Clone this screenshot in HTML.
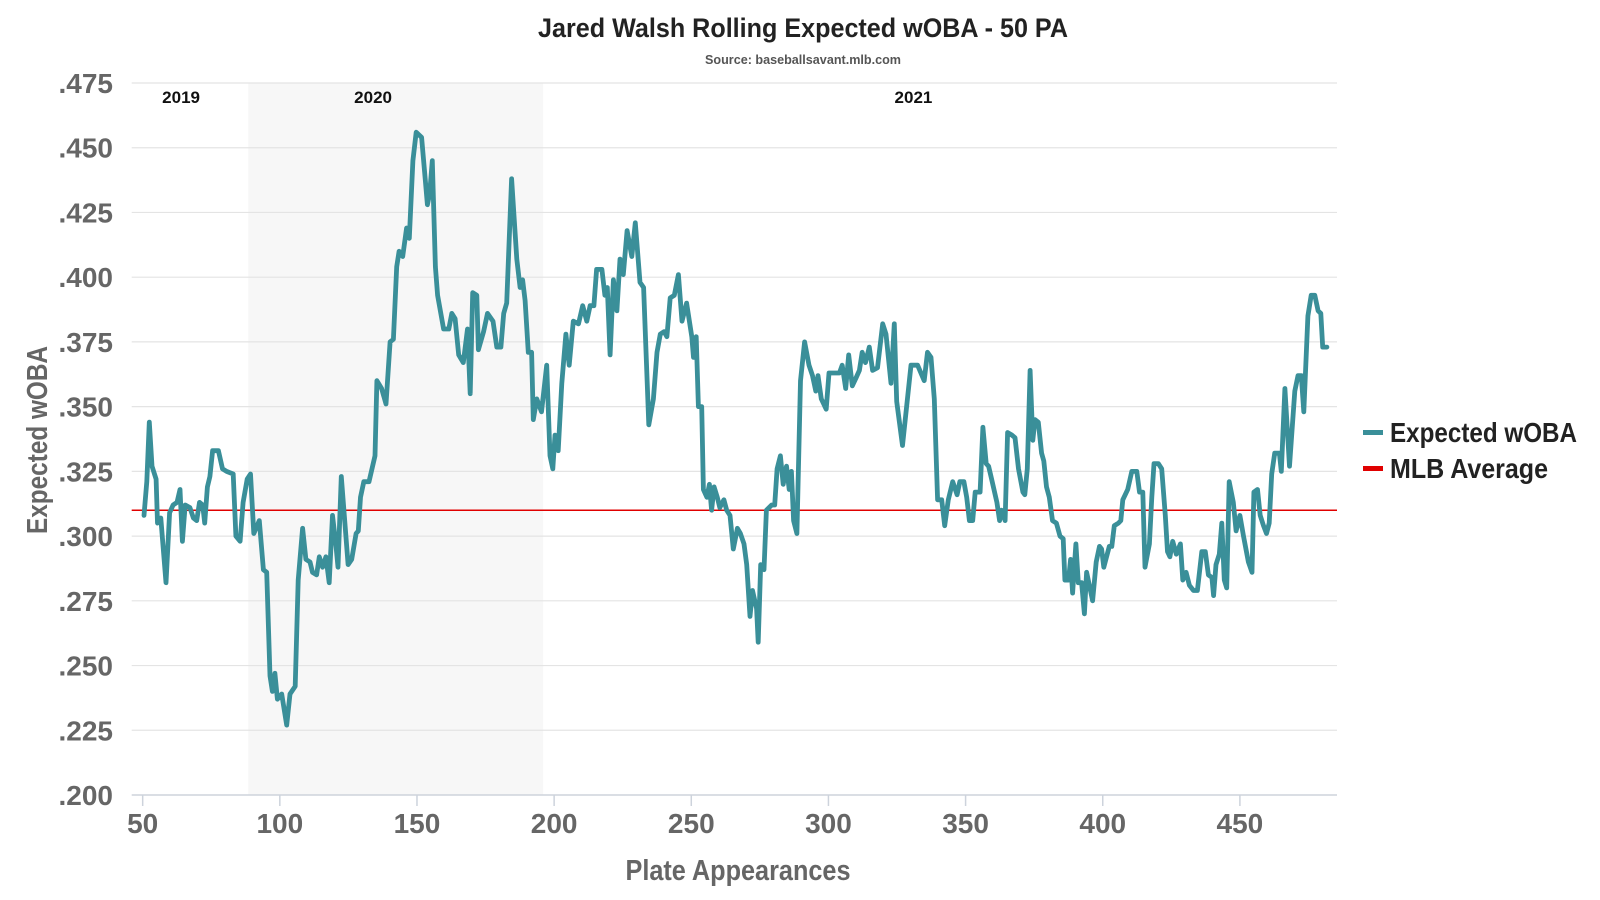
<!DOCTYPE html>
<html><head><meta charset="utf-8"><style>
html,body{margin:0;padding:0;background:#fff;}
svg{display:block;font-family:"Liberation Sans Narrow","Liberation Sans",sans-serif;}
</style></head><body>
<svg id="chart" width="1600" height="900" viewBox="0 0 1600 900" xmlns="http://www.w3.org/2000/svg">
<text x="803" y="37" text-anchor="middle" font-size="27" font-weight="bold" fill="#222" textLength="530" lengthAdjust="spacingAndGlyphs">Jared Walsh Rolling Expected wOBA - 50 PA</text>
<text x="803" y="64" text-anchor="middle" font-size="13" font-weight="bold" fill="#555" textLength="196" lengthAdjust="spacingAndGlyphs">Source: baseballsavant.mlb.com</text>
<g id="plot"></g>
<text x="738" y="880" text-anchor="middle" font-size="29" font-weight="bold" fill="#666" textLength="225" lengthAdjust="spacingAndGlyphs">Plate Appearances</text>
<text transform="translate(47,440) rotate(-90)" text-anchor="middle" font-size="29" font-weight="bold" fill="#666" textLength="188" lengthAdjust="spacingAndGlyphs">Expected wOBA</text>
<g>
<rect x="1363" y="430" width="20" height="5" fill="#3a8f99"/>
<text x="1390" y="442" font-size="28" font-weight="bold" fill="#222" textLength="187" lengthAdjust="spacingAndGlyphs">Expected wOBA</text>
<rect x="1363" y="466" width="20" height="5" fill="#e00000"/>
<text x="1390" y="478" font-size="28" font-weight="bold" fill="#222" textLength="158" lengthAdjust="spacingAndGlyphs">MLB Average</text>
</g>
</svg>
<script>
const pa = [50.5,51.5,52.4,53.4,54.9,55.4,56.6,58.5,59.8,61.1,62.5,63.6,64.5,65.5,67.2,68.5,69.7,70.7,71.9,72.6,73.6,74.5,75.5,77.6,79.1,80.6,83,84,85.5,86.6,88.1,89.3,90.5,92.5,94,95.2,96.4,97.3,98.2,99.1,100.7,102.5,103.7,105.6,106.7,108.3,109.5,111,111.9,113.4,114.4,115.6,116.8,118,119.2,120.4,121.2,122.4,124.9,126.2,127.8,128.6,129.4,130.6,132.5,134.7,135.4,137.1,138.7,140.2,141.4,142.6,143.5,144.8,146.2,147.2,148.5,149.7,151.7,153,153.8,154.6,155.6,156.7,157.5,159.7,161.6,162.7,163.9,165.2,166.9,168.4,169.4,170.3,171.8,172.4,174.3,175.7,177.7,179.1,180.6,181.6,182.7,184.5,186.4,187.6,188.5,189.4,190.6,191.8,192.4,193.7,195.4,197.3,198.5,199.5,200.3,201.5,202.8,204.3,205.5,207,208.9,210.4,211.9,213.1,214.5,215.5,217.4,218.5,219.4,220.4,221.6,222.9,224,225.2,226.6,228.3,229.6,231.3,232.6,234.5,236.2,237.5,238.7,240.1,241.1,242.3,243.8,245.3,246.6,248.3,250.2,250.8,251.8,252.6,253.8,254.4,255.7,256.6,257.4,258.3,259.5,260.4,261.9,262.9,264.1,265.3,266.8,267.9,269.2,270.2,271.4,272.3,273.8,274.4,275.3,276.5,277.4,279.3,280.4,281.3,282.5,283.5,284.7,285.7,286.5,287.3,288.5,289.8,291.3,292.9,294.2,295.4,296.2,297.4,299.2,300.2,301.7,304,305,306.3,307.4,308.7,310,311.3,312.3,313.5,314.9,316.1,317.9,319.8,321,322.8,324,324.9,327,330.1,332.5,334.9,336.1,337.4,338.6,339.8,341.3,342.4,343.7,345.3,346.9,347.9,349.4,350.4,351.4,352.6,353.5,355.3,356.3,357.5,358.4,359.5,361.4,362.4,363.1,364.4,365.3,366.9,368,369.3,370.9,371.6,372.5,373.5,374.5,375.3,376.5,377.7,378.5,379.5,380.5,381.7,383.1,384.4,385.6,386.2,387.5,388.3,389,390.2,391.1,392.3,393.3,394.1,395.3,396.3,397.6,398.8,399.6,400.4,402.4,403.3,404.2,405.7,406.6,407.3,409.1,410.6,412.4,413.4,414.6,415.4,417,417.9,418.7,420.3,421.5,422.8,423.6,424.5,425.5,426.8,428.3,429.2,430.4,431.6,433.1,434.5,436.1,437.4,438.5,439.8,440.4,441.3,442.5,443.4,444.3,445.2,446.1,447.6,448.6,450,451.3,453.1,454.4,455.1,456.4,457.4,458.6,459.7,460.7,461.6,462.7,464.4,465.1,466.4,468.1,470,471.2,472.4,473.3,474.8,476,477.3,478.5,479.5,480.2,481.7];
const xwoba = [.308,.321,.344,.327,.322,.305,.307,.282,.309,.312,.313,.318,.298,.312,.311,.307,.306,.313,.312,.305,.319,.323,.333,.333,.326,.325,.324,.300,.298,.313,.322,.324,.301,.306,.287,.286,.246,.240,.247,.237,.239,.227,.239,.242,.283,.303,.291,.290,.286,.285,.292,.288,.292,.282,.308,.297,.288,.323,.289,.291,.301,.302,.315,.321,.321,.331,.360,.357,.351,.375,.376,.404,.410,.408,.419,.415,.445,.456,.454,.438,.428,.432,.445,.404,.393,.380,.380,.386,.384,.370,.367,.380,.355,.394,.393,.372,.379,.386,.383,.373,.373,.386,.390,.438,.407,.396,.399,.391,.371,.371,.345,.353,.348,.366,.331,.326,.339,.333,.359,.378,.366,.383,.382,.389,.383,.389,.389,.403,.403,.393,.396,.370,.399,.387,.407,.401,.418,.408,.421,.398,.396,.343,.353,.371,.378,.379,.377,.392,.393,.401,.383,.390,.377,.369,.377,.350,.350,.318,.315,.320,.310,.319,.315,.311,.314,.310,.308,.295,.303,.301,.297,.289,.269,.279,.272,.259,.289,.287,.310,.312,.312,.326,.331,.320,.327,.318,.325,.306,.301,.360,.375,.366,.362,.356,.362,.353,.349,.363,.363,.363,.366,.357,.370,.358,.361,.364,.371,.367,.373,.364,.365,.382,.378,.359,.382,.352,.335,.366,.366,.360,.371,.369,.353,.314,.314,.304,.314,.321,.316,.321,.321,.315,.306,.306,.317,.317,.342,.328,.327,.322,.313,.306,.310,.306,.340,.339,.338,.326,.317,.316,.326,.364,.337,.345,.344,.332,.329,.319,.315,.306,.305,.300,.299,.283,.283,.291,.278,.297,.282,.282,.270,.286,.280,.275,.290,.296,.295,.288,.296,.296,.304,.305,.306,.314,.318,.325,.325,.317,.317,.288,.297,.315,.328,.328,.326,.308,.294,.292,.298,.293,.297,.283,.286,.281,.279,.279,.294,.294,.285,.284,.277,.289,.293,.305,.283,.280,.321,.313,.302,.308,.300,.290,.286,.317,.318,.308,.304,.301,.305,.324,.332,.332,.325,.357,.327,.356,.362,.362,.348,.385,.393,.393,.387,.386,.373,.373];
const yTicks = [.200,.225,.250,.275,.300,.325,.350,.375,.400,.425,.450,.475];
const xTicks = [50,100,150,200,250,300,350,400,450];
const mlbAverage = .310;
const seasons = ["2019","2020","2021"];
const seasonLabelPA = [64,134,331];
const shade2020 = [88.5,196];

const L=131.7,R=1337,T=83,B=795,X0=46,X1=485.4,Y0=.200,Y1=.475;
const sx=v=>L+(v-X0)/(X1-X0)*(R-L);
const sy=v=>B-(v-Y0)/(Y1-Y0)*(B-T);
const NS="http://www.w3.org/2000/svg";
const g=document.getElementById('plot');
function mk(tag,attrs){const e=document.createElementNS(NS,tag);for(const k in attrs)e.setAttribute(k,attrs[k]);g.appendChild(e);return e;}

const sh=mk('rect',{x:sx(shade2020[0]),y:T,width:sx(shade2020[1])-sx(shade2020[0]),height:B-T,fill:'#f7f7f7'});



yTicks.forEach(v=>{
  if(v>Y0){const l=mk('line',{x1:L,x2:R,y1:sy(v),y2:sy(v),stroke:'#e4e4e4','stroke-width':1.2});
  
  }
  const t=mk('text',{x:113,y:sy(v)+10,'text-anchor':'end','font-size':28,'font-weight':'bold',fill:'#666'});
  t.textContent=v.toFixed(3).replace(/^0/,'');
  
  
});
const ax=mk('line',{x1:L,x2:R,y1:B,y2:B,stroke:'#cdd3dc','stroke-width':1.5});


xTicks.forEach(v=>{
  const tk=mk('line',{x1:sx(v),x2:sx(v),y1:B,y2:B+11,stroke:'#cdd3dc','stroke-width':1.5});
  
  
  const t=mk('text',{x:sx(v),y:B+38,'text-anchor':'middle','font-size':28,'font-weight':'bold',fill:'#666'});
  t.textContent=v;
  
  
});
seasons.forEach((s,i)=>{
  const t=mk('text',{x:sx(seasonLabelPA[i]),y:103,'text-anchor':'middle','font-size':17,'font-weight':'bold',fill:'#111'});
  t.textContent=s;
  
  
});
const ml=mk('line',{x1:L,x2:R,y1:sy(mlbAverage),y2:sy(mlbAverage),stroke:'#e00000','stroke-width':1.5});


const d=pa.map((p,i)=>(i?'L':'M')+sx(p).toFixed(1)+','+sy(xwoba[i]).toFixed(1)).join('');
const ln=mk('path',{d:d,fill:'none',stroke:'#3a8f99','stroke-width':4.8,'stroke-linejoin':'round','stroke-linecap':'round'});


</script>
</body></html>
